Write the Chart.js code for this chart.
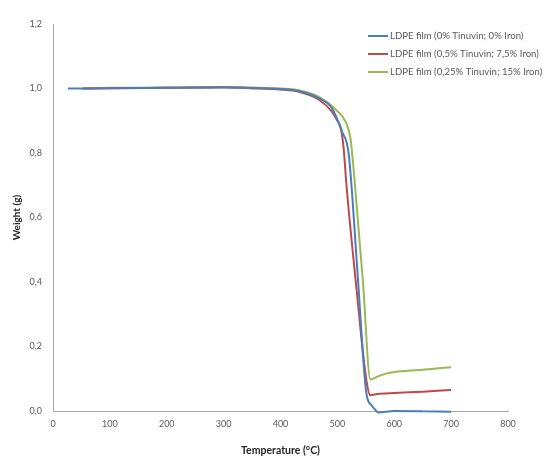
<!DOCTYPE html>
<html>
<head>
<meta charset="utf-8">
<script src="https://cdn.jsdelivr.net/npm/chart.js@4/dist/chart.umd.min.js"></script>
<style>
html,body{margin:0;padding:0;background:#fff;}
#wrap{width:544px;height:461px;position:relative;}
</style>
</head>
<body>
<div id="wrap"><canvas id="c" width="544" height="461"></canvas></div>
<script>
// ---- data ----
const seriesLabels = [
  'LDPE film (0% Tinuvin; 0% Iron)',
  'LDPE film (0,5% Tinuvin; 7,5% Iron)',
  'LDPE film (0,25% Tinuvin; 15% Iron)'
];
const tempBlue = [26, 100, 200, 300, 350, 400, 432, 467, 490, 508, 520, 535, 551, 560, 567, 572, 600, 650, 700];
const wBlue    = [1.0, 1.001, 1.002, 1.003, 1.001, 0.998, 0.992, 0.97, 0.94, 0.867, 0.796, 0.44, 0.055, 0.018, 0.003, -0.005, 0.0, -0.001, -0.002];
const tempRed  = [52, 100, 200, 300, 350, 400, 432, 467, 490, 500, 506, 511, 516, 533, 551, 558, 570, 600, 650, 700];
const wRed     = [1.0, 1.001, 1.002, 1.004, 1.001, 0.997, 0.99, 0.966, 0.929, 0.90, 0.877, 0.815, 0.70, 0.39, 0.096, 0.049, 0.053, 0.056, 0.06, 0.065];
const tempGreen = [52, 100, 200, 300, 350, 400, 432, 467, 497, 515, 523, 530, 545, 558, 575, 590, 650, 700];
const wGreen    = [1.0, 1.002, 1.003, 1.005, 1.003, 1.0, 0.995, 0.975, 0.935, 0.895, 0.845, 0.72, 0.40, 0.098, 0.11, 0.118, 0.128, 0.136];
const xTicks = [0, 100, 200, 300, 400, 500, 600, 700, 800];
const yTicks = [0, 0.2, 0.4, 0.6, 0.8, 1.0, 1.2];
const xTitle = 'Temperature (°C)';
const yTitle = 'Weight (g)';

function pts(xs, ys){ return xs.map((x,i)=>({x:x, y:ys[i]})); }

const colors = ['#4a7ebb', '#be4b48', '#98b954'];
const FONT = 'Lato, "Open Sans", "Liberation Sans", sans-serif';

const legendPlugin = {
  id: 'excelLegend',
  afterDraw(chart){
    const ctx = chart.ctx;
    const o = chart.options.plugins.excelLegend;
    ctx.save();
    chart.data.datasets.forEach((ds, i) => {
      const y = o.top + i * o.step;
      ctx.strokeStyle = ds.borderColor;
      ctx.lineWidth = 2;
      ctx.beginPath();
      ctx.moveTo(o.left, y);
      ctx.lineTo(o.left + o.lineLen, y);
      ctx.stroke();
      ctx.fillStyle = '#595959';
      ctx.font = o.font;
      ctx.textBaseline = 'middle';
      ctx.textAlign = 'left';
      ctx.fillText(ds.label, o.left + o.lineLen + 2, y);
    });
    ctx.restore();
  }
};

new Chart(document.getElementById('c'), {
  type: 'scatter',
  data: {
    datasets: [
      {label: seriesLabels[0], data: pts(tempBlue, wBlue), borderColor: colors[0], backgroundColor: colors[0]},
      {label: seriesLabels[1], data: pts(tempRed, wRed), borderColor: colors[1], backgroundColor: colors[1]},
      {label: seriesLabels[2], data: pts(tempGreen, wGreen), borderColor: colors[2], backgroundColor: colors[2]}
    ].map(d => Object.assign(d, {showLine: true, pointRadius: 0, borderWidth: 2, cubicInterpolationMode: 'monotone', clip: false}))
  },
  options: {
    responsive: false,
    animation: false,
    devicePixelRatio: 1,
    layout: {padding: {left: 0, right: 36, top: 24, bottom: 0}},
    plugins: {
      legend: {display: false},
      tooltip: {enabled: false},
      excelLegend: {left: 368, top: 36, step: 18, lineLen: 20, font: '9.6px ' + FONT}
    },
    scales: {
      x: {
        type: 'linear', min: 0, max: 800,
        afterBuildTicks: s => { s.ticks = xTicks.map(v => ({value: v})); },
        afterFit: s => { s.height = 50; },
        grid: {display: true, drawOnChartArea: false, drawTicks: false},
        border: {display: true, color: '#a6a6a6', width: 1},
        ticks: {color: '#595959', font: {family: FONT, size: 9}, padding: 8, maxRotation: 0},
        title: {display: true, text: xTitle, color: '#262626', font: {family: FONT, size: 10.5, weight: 'bold'}, padding: {top: 0, bottom: 4}}
      },
      y: {
        type: 'linear', min: 0, max: 1.2,
        afterBuildTicks: s => { s.ticks = yTicks.map(v => ({value: v})); },
        afterFit: s => { s.width = 53; },
        grid: {display: true, drawOnChartArea: false, drawTicks: false},
        border: {display: true, color: '#a6a6a6', width: 1},
        ticks: {color: '#595959', font: {family: FONT, size: 9}, padding: 11,
          callback: v => v.toFixed(1).replace('.', ',')},
        title: {display: true, text: yTitle, color: '#262626', font: {family: FONT, size: 10, weight: 'bold'}, padding: {top: 11, bottom: 0}}
      }
    }
  },
  plugins: [legendPlugin]
});
</script>
</body>
</html>
